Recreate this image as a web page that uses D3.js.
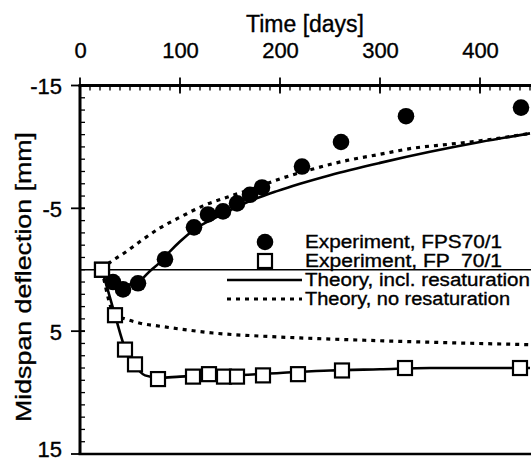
<!DOCTYPE html>
<html><head><meta charset="utf-8">
<script src="https://cdn.jsdelivr.net/npm/d3@7/dist/d3.min.js"></script>
<style>body{margin:0;background:#fff}svg{display:block}text{font-family:"Liberation Sans",Arial,sans-serif;fill:#000;stroke:#000;stroke-width:0.35px}</style>
</head><body>
<svg id="c" width="531" height="462"></svg>
<script>
// data
const fpsDays = [21, 33, 43, 58, 85, 114, 128, 143, 157, 170, 182, 222, 261, 326, 441];
const fpsDefl = [0, 1.0, 1.6, 1.1, -0.85, -3.45, -4.5, -4.75, -5.4, -6.1, -6.7, -8.4, -10.4, -12.5, -13.2];
const fpDays = [22, 35, 45, 55, 78, 113, 129, 144, 157, 183, 218, 262, 325, 440];
const fpDefl = [0, 3.7, 6.5, 7.7, 8.9, 8.7, 8.5, 8.7, 8.7, 8.6, 8.5, 8.2, 8.0, 8.0];
const thFpsResDays = [21, 30, 40, 50, 60, 70, 80, 90, 100, 113, 137, 167, 197, 220, 250, 300, 350, 400, 450];
const thFpsResDefl = [0, 0.7, 1.1, 1.2, 0.9, 0.1, -0.6, -1.5, -2.3, -3.2, -4.3, -5.5, -6.4, -7.0, -7.7, -8.7, -9.6, -10.4, -11.1];
const thFpsNoDays = [21, 30, 45, 60, 80, 103, 123, 147, 173, 200, 233, 267, 300, 333, 367, 400, 450];
const thFpsNoDefl = [0, -0.6, -1.4, -2.3, -3.4, -4.4, -5.2, -5.9, -6.6, -7.4, -8.2, -8.9, -9.4, -9.9, -10.2, -10.5, -11.1];
const thFpResDays = [22, 35, 45, 55, 65, 80, 100, 150, 200, 250, 300, 350, 450];
const thFpResDefl = [0, 3.7, 6.4, 7.8, 8.6, 8.8, 8.7, 8.6, 8.4, 8.2, 8.1, 8.0, 8.0];
const thFpNoDays = [22, 35, 45, 60, 80, 107, 133, 180, 220, 270, 350, 450];
const thFpNoDefl = [0, 3.7, 4.0, 4.35, 4.6, 4.9, 5.15, 5.4, 5.55, 5.7, 5.9, 6.1];
const xTicks = [0, 100, 200, 300, 400];
const yTicks = [-15, -5, 5, 15];
const legendLabels = ["Experiment, FPS70/1", "Experiment, FP  70/1", "Theory, incl. resaturation", "Theory, no resaturation"];

const svg = d3.select("#c");
const x = d3.scaleLinear().domain([0, 450]).range([80, 530]);
const y = d3.scaleLinear().domain([-15, 15]).range([85.5, 454]);

const zip = (a, b) => a.map((d, i) => [d, b[i]]);
const line = d3.line().x(d => x(d[0])).y(d => y(d[1])).curve(d3.curveMonotoneX);

// zero line
svg.append("line").attr("x1", x(0)).attr("x2", 531).attr("y1", y(0)).attr("y2", y(0))
  .attr("stroke", "#000").attr("stroke-width", 1.5);

// theory lines
[[thFpsResDays, thFpsResDefl, null], [thFpResDays, thFpResDefl, null],
 [thFpsNoDays, thFpsNoDefl, "4,5"], [thFpNoDays, thFpNoDefl, "4,5"]].forEach(([a, b, dash]) => {
  svg.append("path").attr("d", line(zip(a, b))).attr("fill", "none").attr("stroke", "#000")
    .attr("stroke-width", dash ? 3.2 : 2.6).attr("stroke-dasharray", dash);
});

// axes
const axTop = d3.axisTop(x).tickValues(xTicks).tickSize(0).tickFormat(d => String(d));
const gTop = svg.append("g").attr("transform", `translate(0,${y(-15)})`).call(axTop);
gTop.select(".domain").remove();
gTop.selectAll("text").attr("font-size", 22).attr("y", -28).attr("dy", 0).attr("font-family", "Liberation Sans, Arial, sans-serif");
const axLeft = d3.axisLeft(y).tickValues(yTicks).tickSize(0).tickFormat(d => String(d));
const gLeft = svg.append("g").attr("transform", `translate(${x(0)},0)`).call(axLeft);
gLeft.select(".domain").remove();
gLeft.selectAll("text").attr("font-size", 22).attr("x", -18).attr("dy", d => d === 15 ? "0.1em" : "0.36em").attr("font-family", "Liberation Sans, Arial, sans-serif");

// minor ticks
const minorX = d3.range(0, 451, 10);
svg.append("g").selectAll("line").data(minorX).join("line")
  .attr("x1", d => x(d)).attr("x2", d => x(d)).attr("y1", y(-15)).attr("y2", y(-15) + 5)
  .attr("stroke", "#000").attr("stroke-width", 1.3);
svg.append("g").selectAll("line").data(xTicks).join("line")
  .attr("x1", d => x(d)).attr("x2", d => x(d)).attr("y1", y(-15) - 8).attr("y2", y(-15) + 8)
  .attr("stroke", "#000").attr("stroke-width", 1.8);
const minorY = d3.range(-15, 15.1, 1);
svg.append("g").selectAll("line").data(minorY).join("line")
  .attr("x1", x(0)).attr("x2", x(0) + 5).attr("y1", d => y(d)).attr("y2", d => y(d))
  .attr("stroke", "#000").attr("stroke-width", 1.3);
svg.append("g").selectAll("line").data(yTicks).join("line")
  .attr("x1", x(0) - 9).attr("x2", x(0) + 5).attr("y1", d => y(d)).attr("y2", d => y(d))
  .attr("stroke", "#000").attr("stroke-width", 1.8);

// frame
svg.append("line").attr("x1", x(0) - 1.5).attr("x2", 531).attr("y1", y(-15)).attr("y2", y(-15)).attr("stroke", "#000").attr("stroke-width", 3);
svg.append("line").attr("x1", x(0)).attr("x2", x(0)).attr("y1", y(-15)).attr("y2", y(15)).attr("stroke", "#000").attr("stroke-width", 3);
svg.append("line").attr("x1", x(0) - 1.5).attr("x2", 531).attr("y1", y(15)).attr("y2", y(15)).attr("stroke", "#000").attr("stroke-width", 2.6);

// markers
svg.append("g").selectAll("rect").data(zip(fpDays, fpDefl)).join("rect")
  .attr("x", d => x(d[0]) - 7).attr("y", d => y(d[1]) - 7).attr("width", 14).attr("height", 14)
  .attr("fill", "#fff").attr("stroke", "#000").attr("stroke-width", 2.2);
svg.append("g").selectAll("circle").data(zip(fpsDays, fpsDefl).slice(1)).join("circle")
  .attr("cx", d => x(d[0])).attr("cy", d => y(d[1])).attr("r", 8.3).attr("fill", "#000");
// redraw first square on top
svg.append("rect").attr("x", x(fpDays[0]) - 7).attr("y", y(fpDefl[0]) - 7).attr("width", 14).attr("height", 14)
  .attr("fill", "#fff").attr("stroke", "#000").attr("stroke-width", 2.2);

// titles
svg.append("text").attr("x", 305).attr("y", 32).attr("text-anchor", "middle").attr("font-size", 23).text("Time [days]");
svg.append("text").attr("transform", "translate(31,277) rotate(-90)").attr("text-anchor", "middle").attr("font-size", 22)
  .attr("textLength", 290).attr("lengthAdjust", "spacingAndGlyphs").text("Midspan deflection [mm]");

// legend
const ly = [242, 261, 280, 299];
const lg = svg.append("g");
lg.append("circle").attr("cx", 265).attr("cy", ly[0]).attr("r", 8.3).attr("fill", "#000");
lg.append("rect").attr("x", 258).attr("y", ly[1] - 7).attr("width", 14).attr("height", 14).attr("fill", "#fff").attr("stroke", "#000").attr("stroke-width", 2.2);
lg.append("line").attr("x1", 227).attr("x2", 302).attr("y1", ly[2]).attr("y2", ly[2]).attr("stroke", "#000").attr("stroke-width", 2.6);
lg.append("line").attr("x1", 227).attr("x2", 302).attr("y1", ly[3]).attr("y2", ly[3]).attr("stroke", "#000").attr("stroke-width", 3.2).attr("stroke-dasharray", "4,5");
const lw = [197, 197, 225, 205];
lg.selectAll("text").data(legendLabels).join("text")
  .attr("x", 305).attr("y", (d, i) => ly[i]).attr("dy", "0.36em").attr("font-size", 18)
  .attr("textLength", (d, i) => lw[i]).attr("lengthAdjust", "spacingAndGlyphs")
  .style("white-space", "pre").text(d => d);
</script>
</body></html>
